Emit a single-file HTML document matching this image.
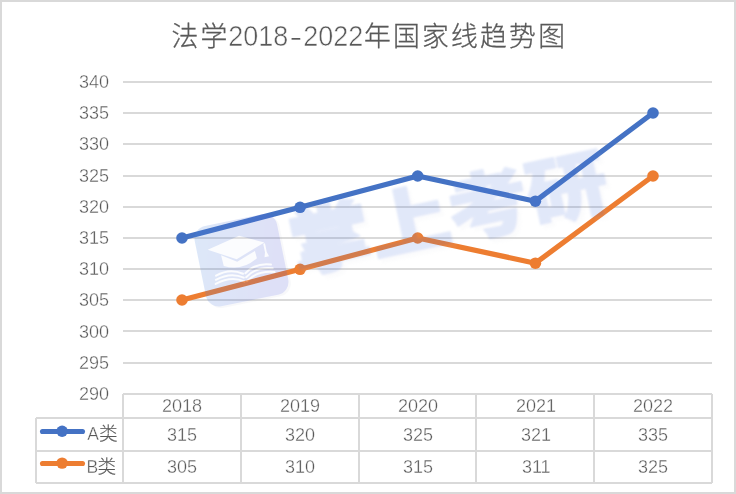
<!DOCTYPE html>
<html lang="zh">
<head>
<meta charset="utf-8">
<title>法学2018-2022年国家线趋势图</title>
<style>
html,body{margin:0;padding:0;background:#fff;}
body{width:736px;height:494px;overflow:hidden;}
svg{display:block;}
text{font-family:"Liberation Sans","Noto Sans CJK SC",sans-serif;fill:#595959;font-weight:300;}
.ax{font-size:18px;stroke:#fff;stroke-width:0.35px;}
.ttl{font-size:28px;}
.wmt{font-size:72px;font-weight:900;dominant-baseline:central;fill:#4f78dc;stroke:#4f78dc;stroke-width:2.2px;stroke-linejoin:round;}
.lg .la{font-size:17.5px;stroke:#fff;stroke-width:0.35px;}
.lg .lc{font-size:18.6px;font-weight:300;stroke:#595959;stroke-width:0.15px;}
.ttl .cj{font-size:26.8px;letter-spacing:2.25px;font-weight:300;stroke:#595959;stroke-width:0.3px;}
.ttl .dg{font-size:28.9px;stroke:#fff;stroke-width:0.55px;}
.ttl .hy{font-size:26.3px;stroke:#fff;stroke-width:0.3px;}
</style>
</head>
<body>
<svg width="736" height="494" viewBox="0 0 736 494">
<defs><linearGradient id="wmg" x1="0" y1="0" x2="1" y2="0.3"><stop offset="0" stop-color="#4d8ae0"/><stop offset="1" stop-color="#5560d6"/></linearGradient><filter id="wmb" x="-5%" y="-10%" width="110%" height="120%"><feGaussianBlur in="SourceGraphic" stdDeviation="1.3" result="b"/><feOffset in="b" dx="3.5" dy="3.5" result="o"/><feColorMatrix in="o" type="matrix" values="0 0 0 0 0.6  0 0 0 0 0.63  0 0 0 0 0.72  0 0 0 0.35 0" result="sh"/><feMerge><feMergeNode in="sh"/><feMergeNode in="b"/></feMerge></filter></defs>
<rect x="0" y="0" width="736" height="494" fill="#fff"/>
<rect x="1" y="1" width="734" height="492" fill="none" stroke="#d9d9d9" stroke-width="2"/>
<g class="ttl"><text class="cj" x="171.4" y="46">法学</text><text class="dg" transform="translate(228.2,46.4) scale(0.934,1)">2018</text><text class="hy" transform="translate(289.5,46.4) scale(1.45,1)">-</text><text class="dg" transform="translate(303.2,46.4) scale(0.934,1)">2022</text><text class="cj" x="363.9" y="46">年国家线趋势图</text></g>
<g fill="#d9d9d9">
<rect x="123" y="81" width="589" height="2"/>
<rect x="123" y="112" width="589" height="2"/>
<rect x="123" y="143" width="589" height="2"/>
<rect x="123" y="175" width="589" height="2"/>
<rect x="123" y="206" width="589" height="2"/>
<rect x="123" y="237" width="589" height="2"/>
<rect x="123" y="268" width="589" height="2"/>
<rect x="123" y="299" width="589" height="2"/>
<rect x="123" y="330" width="589" height="2"/>
<rect x="123" y="362" width="589" height="2"/>
</g>
<g fill="none" stroke-width="5.2" stroke-linejoin="round" stroke-linecap="round">
<polyline stroke="#4472c4" points="182.0,238 300.1,207.3 417.7,176 535.4,201.2 653.0,113"/>
<polyline stroke="#ed7d31" points="182.0,300 300.1,269.3 417.7,238 535.4,263.2 653.0,176"/>
</g>
<g fill="#4472c4"><circle cx="182.0" cy="238" r="5.8"/><circle cx="300.1" cy="207.3" r="5.8"/><circle cx="417.7" cy="176" r="5.8"/><circle cx="535.4" cy="201.2" r="5.8"/><circle cx="653.0" cy="113" r="5.8"/></g>
<g fill="#ed7d31"><circle cx="182.0" cy="300" r="5.8"/><circle cx="300.1" cy="269.3" r="5.8"/><circle cx="417.7" cy="238" r="5.8"/><circle cx="535.4" cy="263.2" r="5.8"/><circle cx="653.0" cy="176" r="5.8"/></g>
<g class="wm" opacity="0.19">
<g transform="translate(241.5,260.3) rotate(-11.5)">
<rect x="-40" y="-39" width="84" height="82" rx="13" fill="#9aa0b8" opacity="0.35"/>
<rect x="-42" y="-41" width="84" height="82" rx="13" fill="url(#wmg)"/>
<g fill="#fff" stroke="none" opacity="0.9">
<path d="M-31,-17 L2.5,-24.5 L26,-13 L-4.5,-2 Z"/>
<path d="M-19,-9 L-4.5,0.5 L15,-6.5 L15.5,1 Q-2,11 -18.5,2 Z"/>
<path d="M24.6,-12 h1.8 v9 l1.4,4.5 h-4.6 l1.4,-4.5 Z"/>
</g>
<g fill="none" stroke="#fff" stroke-width="2" stroke-linecap="round" opacity="0.9">
<path d="M-1.2,13.5 Q-13,5 -28,10"/>
<path d="M-1.2,17.5 Q-13,9 -29,14"/>
<path d="M-1.2,21.5 Q-13,13 -30,18"/>
<path d="M1.2,13.5 Q13,5 28,10"/>
<path d="M1.2,17.5 Q13,9 29,14"/>
<path d="M1.2,21.5 Q13,13 30,18"/>
</g>
</g>
</g>
<g class="wm" opacity="0.165" filter="url(#wmb)">
<text class="wmt" transform="translate(449,214.5) rotate(-12) scale(1.12,1)" x="0" y="0" text-anchor="middle">掌上考研</text>
</g>
<g class="ax" text-anchor="end">
<text x="109" y="88">340</text>
<text x="109" y="119.2">335</text>
<text x="109" y="150.4">330</text>
<text x="109" y="181.6">325</text>
<text x="109" y="212.8">320</text>
<text x="109" y="244">315</text>
<text x="109" y="275.2">310</text>
<text x="109" y="306.4">305</text>
<text x="109" y="337.6">300</text>
<text x="109" y="368.8">295</text>
<text x="109" y="400">290</text>
</g>
<g fill="#d9d9d9">
<rect x="123" y="393" width="589" height="2"/>
<rect x="36" y="417" width="676" height="2"/>
<rect x="36" y="450" width="676" height="2"/>
<rect x="36" y="482" width="676" height="2"/>
<rect x="35" y="418" width="2" height="65"/>
<rect x="122" y="394" width="2" height="89"/>
<rect x="240" y="394" width="2" height="89"/>
<rect x="358" y="394" width="2" height="89"/>
<rect x="475" y="394" width="2" height="89"/>
<rect x="593" y="394" width="2" height="89"/>
<rect x="711" y="394" width="2" height="89"/>
</g>
<g class="ax" text-anchor="middle">
<text x="182" y="412">2018</text>
<text x="300" y="412">2019</text>
<text x="418" y="412">2020</text>
<text x="536" y="412">2021</text>
<text x="653" y="412">2022</text>
<text x="182" y="441">315</text>
<text x="300" y="441">320</text>
<text x="418" y="441">325</text>
<text x="536" y="441">321</text>
<text x="653" y="441">335</text>
<text x="182" y="473">305</text>
<text x="300" y="473">310</text>
<text x="418" y="473">315</text>
<text x="536.3" y="473">311</text>
<text x="653" y="473">325</text>
</g>
<g fill="none" stroke-width="5.1" stroke-linecap="round">
<line x1="42.5" x2="82.5" y1="431.5" y2="431.5" stroke="#4472c4"/>
<line x1="42.5" x2="82.5" y1="463.5" y2="463.5" stroke="#ed7d31"/>
</g>
<circle cx="62.1" cy="431.2" r="5.7" fill="#4472c4"/>
<circle cx="62.1" cy="463.1" r="5.7" fill="#ed7d31"/>
<g class="lg">
<text x="87.3" y="440"><tspan class="la">A</tspan><tspan class="lc" x="98.9">类</tspan></text>
<text x="86.6" y="472.6"><tspan class="la">B</tspan><tspan class="lc" x="97.4">类</tspan></text>
</g>
</svg>
</body>
</html>
